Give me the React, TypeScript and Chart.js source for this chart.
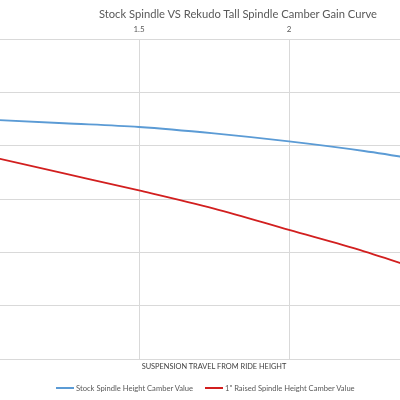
import React, { useEffect, useRef } from "react";
import { Chart, registerables } from "chart.js";

Chart.register(...registerables);

const chartTitle = "Stock Spindle VS Rekudo Tall Spindle Camber Gain Curve";
const xAxisTitle = "SUSPENSION TRAVEL FROM RIDE HEIGHT";
const travel = [1, 1.25, 1.5, 1.75, 2, 2.25, 2.5];
const stockLabel = "Stock Spindle Height Camber Value";
const stockCamber = [-0.755, -0.79, -0.825, -0.885, -0.96, -1.05, -1.16];
const raisedLabel = "1\" Raised Spindle Height Camber Value";
const raisedCamber = [-1.1, -1.26, -1.42, -1.59, -1.79, -1.99, -2.22];

const BLUE = "#5B9BD5";
const RED = "#D21F1F";
const GRID = "#D9D9D9";
const FONT = "Lato, 'Open Sans', sans-serif";

export default function App() {
  const ref = useRef<HTMLCanvasElement | null>(null);
  useEffect(() => {
    if (!ref.current) return;
    const chart = new Chart(ref.current, {
      type: "line",
      data: {
        datasets: [
          {
            label: stockLabel,
            data: travel.map((x, i) => ({ x, y: stockCamber[i] })),
            borderColor: BLUE,
            backgroundColor: BLUE,
            borderWidth: 1.8,
            pointRadius: 0,
            cubicInterpolationMode: "monotone",
          },
          {
            label: raisedLabel,
            data: travel.map((x, i) => ({ x, y: raisedCamber[i] })),
            borderColor: RED,
            backgroundColor: RED,
            borderWidth: 1.8,
            pointRadius: 0,
            cubicInterpolationMode: "monotone",
          },
        ],
      },
      options: {
        animation: false,
        responsive: true,
        maintainAspectRatio: false,
        layout: { padding: { left: 9, right: 57, top: 26, bottom: 21 } },
        plugins: {
          legend: { display: false },
          tooltip: { enabled: false },
          title: { display: false },
        },
        scales: {
          x: {
            type: "linear",
            position: "top",
            min: 1,
            max: 2.5,
            ticks: {
              stepSize: 0.5,
              color: "#595959",
              font: { family: FONT, size: 8 },
              padding: 5,
              callback: (v: any) => String(v),
            },
            grid: { color: GRID, drawTicks: false, lineWidth: 1 },
            border: { display: false },
            afterFit: (s: any) => {
              s.height = 13;
            },
          },
          y: {
            min: -3,
            max: 0,
            ticks: { display: false, stepSize: 0.5 },
            grid: { color: GRID, drawTicks: false, lineWidth: 1 },
            border: { display: false },
            afterFit: (s: any) => {
              s.width = 0;
            },
          },
        },
      },
    });
    return () => chart.destroy();
  }, []);

  const legendText: React.CSSProperties = {
    fontFamily: FONT,
    fontSize: 7.6,
    color: "#595959",
    marginLeft: 2,
    whiteSpace: "nowrap",
  };
  const item: React.CSSProperties = {
    position: "absolute",
    top: 382,
    display: "flex",
    alignItems: "center",
    height: 12,
  };

  return (
    <div
      style={{
        position: "fixed",
        left: 0,
        top: 0,
        width: 400,
        height: 400,
        overflow: "hidden",
        background: "#fff",
      }}
    >
      <div style={{ position: "absolute", left: -20, top: 0, width: 516, height: 380 }}>
        <canvas ref={ref} />
      </div>
      <div
        style={{
          position: "absolute",
          left: 0,
          width: 476,
          top: 6,
          textAlign: "center",
          fontFamily: FONT,
          fontSize: 11.2,
          lineHeight: "16px",
          color: "#595959",
          whiteSpace: "nowrap",
        }}
      >
        {chartTitle}
      </div>
      <div
        style={{
          position: "absolute",
          left: 0,
          width: 428,
          top: 361,
          textAlign: "center",
          fontFamily: FONT,
          fontSize: 7.4,
          lineHeight: "12px",
          color: "#404040",
          whiteSpace: "nowrap",
        }}
      >
        {xAxisTitle}
      </div>
      <div style={{ ...item, left: 56 }}>
        <span style={{ display: "inline-block", width: 18, height: 1.8, background: BLUE }} />
        <span style={legendText}>{stockLabel}</span>
      </div>
      <div style={{ ...item, left: 205 }}>
        <span style={{ display: "inline-block", width: 18, height: 1.8, background: RED }} />
        <span style={legendText}>{raisedLabel}</span>
      </div>
    </div>
  );
}
